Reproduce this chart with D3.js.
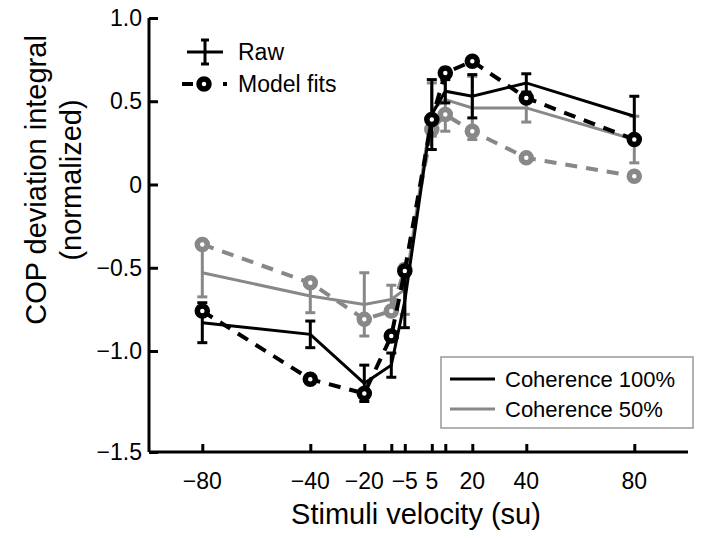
<!DOCTYPE html>
<html>
<head>
<meta charset="utf-8">
<script src="https://cdn.jsdelivr.net/npm/d3@7"></script>
<style>
  body { margin: 0; background: #fff; }
  svg { font-family: "Liberation Sans", Arial, sans-serif; }
</style>
</head>
<body>
<div id="chart"></div>
<script>
// stimulus velocities (su)
const velocities = [-80, -40, -20, -10, -5, 5, 10, 20, 40, 80];
const tickLabels = ["\u221280", "\u221240", "\u221220", "", "\u22125", "5", "", "20", "40", "80"];
const yTicks = [1.0, 0.5, 0, -0.5, -1.0, -1.5];
const yTickLabels = ["1.0", "0.5", "0", "\u22120.5", "\u22121.0", "\u22121.5"];

// coherence 100%
const raw100 = [-0.83, -0.90, -1.16, -1.07, -0.70, 0.42, 0.56, 0.53, 0.61, 0.41];
const err100 = [0.12, 0.08, 0.09, 0.06, 0.16, 0.21, 0.07, 0.13, 0.055, 0.12];
const fit100 = [-0.76, -1.14, -1.21, -0.91, -0.52, 0.39, 0.67, 0.74, 0.52, 0.27];

// coherence 50%
const raw50 = [-0.53, -0.67, -0.72, -0.69, -0.63, 0.45, 0.51, 0.46, 0.46, 0.27];
const err50 = [0.145, 0.10, 0.19, 0.085, 0.15, 0.16, 0.19, 0.19, 0.085, 0.14];
const fit50 = [-0.36, -0.59, -0.81, -0.76, -0.51, 0.33, 0.42, 0.32, 0.16, 0.05];

const GRAY = "#888888";

const svg = d3.select("#chart")
  .append("svg")
  .attr("width", 702)
  .attr("height", 538);

let x = d3.scaleLinear()
  .domain([-80, 80])
  .range([202.3, 634.3]);

// axis bottom sits lower than the regular 0.5 step
let y = d3.scaleLinear()
  .domain([-1.5, -1, 1])
  .range([452, 351, 18]);

// axes
const yAxis = svg.append("g")
  .attr("transform", "translate(149,0)")
  .call(d3.axisRight(y).tickValues(yTicks).tickSize(9).tickFormat(""));
yAxis.select(".domain").attr("d", "M0," + y(1) + "V" + y(-1.5));

const xAxis = svg.append("g")
  .attr("transform", "translate(0,452)")
  .call(d3.axisTop(x).tickValues(velocities).tickSize(8).tickFormat(""));
xAxis.select(".domain").attr("d", "M149,0H688");

svg.selectAll(".domain, .tick line")
  .attr("stroke", "#000")
  .attr("stroke-width", 3);

svg.append("g").selectAll("text")
  .data(yTicks)
  .enter().append("text")
  .attr("x", 142)
  .attr("y", d => y(d) + 8)
  .attr("text-anchor", "end")
  .style("font-size", "23px")
  .text((d, i) => yTickLabels[i]);

svg.append("g").selectAll("text")
  .data(velocities)
  .enter().append("text")
  .attr("x", d => x(d))
  .attr("y", 489)
  .attr("text-anchor", "middle")
  .style("font-size", "23px")
  .text((d, i) => tickLabels[i]);

svg.append("text")
  .attr("x", 416)
  .attr("y", 524)
  .attr("text-anchor", "middle")
  .style("font-size", "29px")
  .text("Stimuli velocity (su)");

svg.append("text")
  .attr("transform", "translate(46,180) rotate(-90)")
  .attr("text-anchor", "middle")
  .style("font-size", "29px")
  .text("COP deviation integral");

svg.append("text")
  .attr("transform", "translate(81,180) rotate(-90)")
  .attr("text-anchor", "middle")
  .style("font-size", "29px")
  .text("(normalized)");

// series
const line = d3.line()
  .x((d, i) => x(velocities[i]))
  .y(d => y(d));

function drawSeries(raw, err, fit, color) {
  svg.append("path")
    .datum(fit)
    .attr("fill", "none")
    .attr("stroke", color)
    .attr("stroke-width", 4)
    .attr("stroke-dasharray", "12,9")
    .attr("d", line);

  svg.append("path")
    .datum(raw)
    .attr("fill", "none")
    .attr("stroke", color)
    .attr("stroke-width", 3)
    .attr("d", line);

  let bars = svg.append("g").selectAll("g")
    .data(raw)
    .enter().append("g");

  bars.append("line")
    .attr("x1", (d, i) => x(velocities[i]))
    .attr("x2", (d, i) => x(velocities[i]))
    .attr("y1", (d, i) => y(d - err[i]))
    .attr("y2", (d, i) => y(d + err[i]))
    .attr("stroke", color)
    .attr("stroke-width", 3);

  [-1, 1].forEach(s => {
    bars.append("line")
      .attr("x1", (d, i) => x(velocities[i]) - 5)
      .attr("x2", (d, i) => x(velocities[i]) + 5)
      .attr("y1", (d, i) => y(d + s * err[i]))
      .attr("y2", (d, i) => y(d + s * err[i]))
      .attr("stroke", color)
      .attr("stroke-width", 3);
  });

  svg.append("g").selectAll("circle")
    .data(fit)
    .enter().append("circle")
    .attr("cx", (d, i) => x(velocities[i]))
    .attr("cy", d => y(d))
    .attr("r", 5)
    .attr("fill", "#fff")
    .attr("stroke", color)
    .attr("stroke-width", 5.5);
}

drawSeries(raw50, err50, fit50, GRAY);
drawSeries(raw100, err100, fit100, "#000");

// top legend (marker types)
const lg = svg.append("g").attr("stroke", "#000").attr("stroke-width", 3);
lg.append("line").attr("x1", 187).attr("x2", 223).attr("y1", 52).attr("y2", 52);
lg.append("line").attr("x1", 205).attr("x2", 205).attr("y1", 40).attr("y2", 64);
lg.append("line").attr("x1", 201).attr("x2", 209).attr("y1", 40).attr("y2", 40);
lg.append("line").attr("x1", 201).attr("x2", 209).attr("y1", 64).attr("y2", 64);
lg.append("line").attr("x1", 182).attr("x2", 193).attr("y1", 84).attr("y2", 84)
  .attr("stroke-width", 4);
lg.append("line").attr("x1", 223).attr("x2", 227).attr("y1", 84).attr("y2", 84)
  .attr("stroke-width", 4);
lg.append("circle").attr("cx", 204).attr("cy", 84).attr("r", 5)
  .attr("fill", "#fff").attr("stroke-width", 5.5);

svg.append("text").attr("x", 238).attr("y", 60).style("font-size", "23px").text("Raw");
svg.append("text").attr("x", 238).attr("y", 92).style("font-size", "23px").text("Model fits");

// coherence legend
const box = svg.append("g");
box.append("rect")
  .attr("x", 441).attr("y", 357).attr("width", 252).attr("height", 71)
  .attr("fill", "#fff").attr("stroke", "#999").attr("stroke-width", 1.5);
const coh = [["Coherence 100%", "#000"], ["Coherence 50%", GRAY]];
coh.forEach((c, i) => {
  box.append("line")
    .attr("x1", 450).attr("x2", 495)
    .attr("y1", 379 + i * 30).attr("y2", 379 + i * 30)
    .attr("stroke", c[1]).attr("stroke-width", 3);
  box.append("text")
    .attr("x", 505).attr("y", 387 + i * 30)
    .style("font-size", "22px")
    .text(c[0]);
});
</script>
</body>
</html>
